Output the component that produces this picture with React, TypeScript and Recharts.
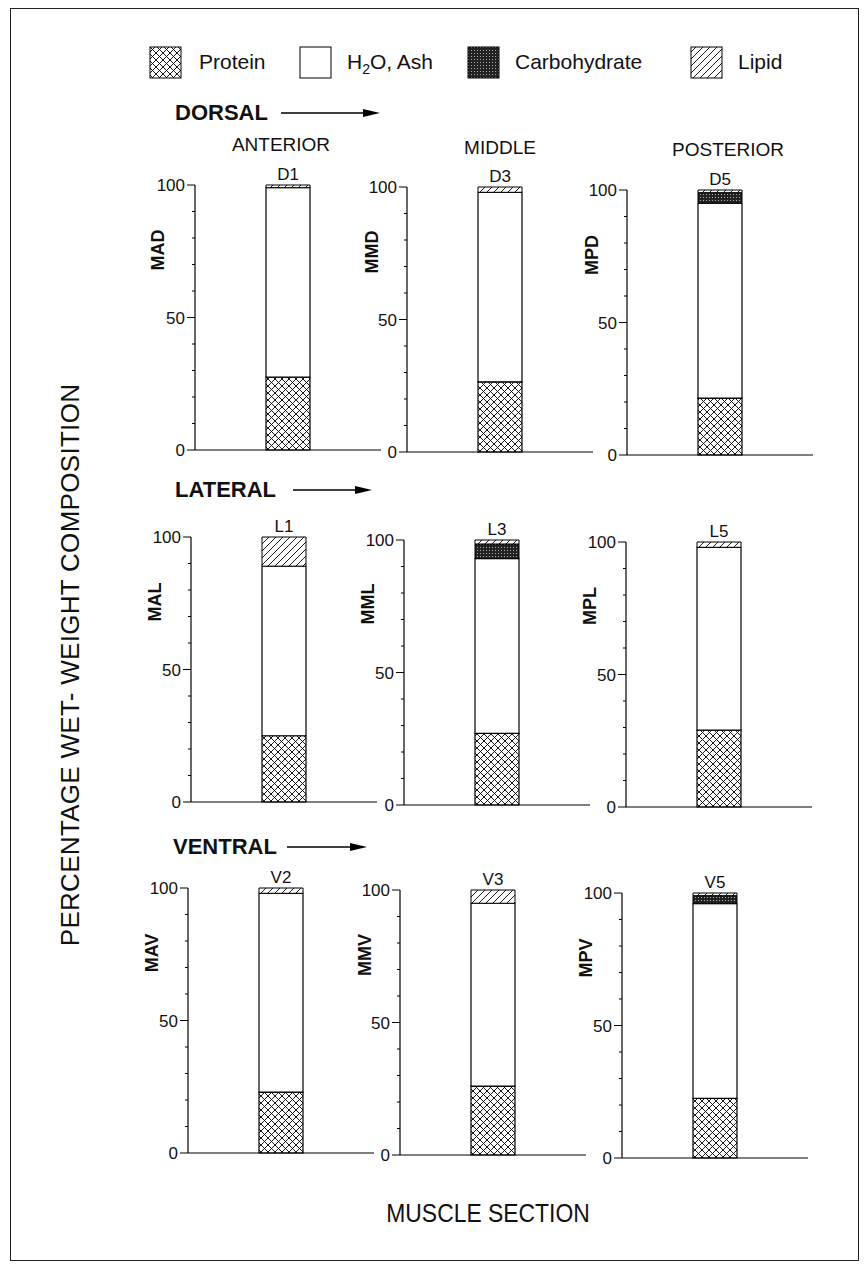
import React from 'react';
import { BarChart, Bar, XAxis, YAxis, LabelList } from 'recharts';

const panels = ['D1', 'D3', 'D5', 'L1', 'L3', 'L5', 'V2', 'V3', 'V5'];
const muscleCodes = ['MAD', 'MMD', 'MPD', 'MAL', 'MML', 'MPL', 'MAV', 'MMV', 'MPV'];
const protein = [27.5, 26.5, 21.5, 25, 27, 29, 23, 26, 22.5];
const water = [71.5, 71.5, 73.5, 64, 66, 69, 75, 69, 73.5];
const carbohydrate = [0, 0, 4, 0, 5.5, 0, 0, 0, 3];
const lipid = [1, 2, 1, 11, 1.5, 2, 2, 5, 1];
const sections = ['ANTERIOR', 'MIDDLE', 'POSTERIOR'];
const regions = ['DORSAL', 'LATERAL', 'VENTRAL'];
const yTicks = [0, 10, 20, 30, 40, 50, 60, 70, 80, 90, 100];

const FONT = '"Liberation Sans", Arial, Helvetica, sans-serif';

// panel geometry: y axis x, y of 100, y of 0
const geo = [
  [195, 185, 450], [407, 187, 452], [627, 190, 455],
  [191, 537, 802], [404, 540, 805], [626, 542, 807],
  [188, 888, 1153], [400, 890, 1155], [622, 893, 1158],
];
const PLOT_W = 186;
const BAR_W = 44;
const codePos = [
  [158, 250], [372, 252], [592, 255],
  [155, 602], [368, 604], [590, 606],
  [152, 953], [365, 955], [586, 958],
];
const headerPos = [[281, 145], [500, 148], [728, 150]];
const regionPos = [[175, 113, 281, 380], [175, 490, 293, 372], [173, 847, 287, 367]];

const YTick = (props: any) => {
  const { x, y, payload } = props;
  const major = payload.value % 50 === 0;
  return (
    <g>
      <line x1={x - (major ? 8 : 3)} x2={x} y1={y} y2={y} stroke="#000" strokeWidth={1} />
      {major && (
        <text x={x - 10} y={y} dy={6} textAnchor="end" fontSize={17} fontFamily={FONT} fill="#111">
          {payload.value}
        </text>
      )}
    </g>
  );
};

const Panel = ({ i }: { i: number }) => {
  const [ax, y100, y0] = geo[i];
  const plotH = y0 - y100;
  const data = [{
    name: panels[i],
    protein: protein[i],
    water: water[i],
    carbohydrate: carbohydrate[i],
    lipid: lipid[i],
  }];
  return (
    <div style={{ position: 'absolute', left: ax - 60, top: y100 - 30 }}>
      <BarChart width={60 + PLOT_W + 10} height={30 + plotH + 2 + 16} data={data} margin={{ top: 30, right: 10, left: 0, bottom: 16 }}>
        <XAxis dataKey="name" tick={false} tickLine={false} height={2} axisLine={{ stroke: '#000', strokeWidth: 1.2 }} />
        <YAxis domain={[0, 100]} ticks={yTicks} interval={0} width={60} tickLine={false} tickSize={0} tickMargin={0}
          tick={(p: any) => <YTick {...p} />} axisLine={{ stroke: '#000', strokeWidth: 1.2 }} />
        <Bar dataKey="protein" stackId="s" fill="url(#pat-protein)" stroke="#000" strokeWidth={1.2} barSize={BAR_W} isAnimationActive={false} />
        <Bar dataKey="water" stackId="s" fill="#fff" stroke="#000" strokeWidth={1.2} barSize={BAR_W} isAnimationActive={false} />
        <Bar dataKey="carbohydrate" stackId="s" fill="url(#pat-carb)" stroke="#000" strokeWidth={1} barSize={BAR_W} isAnimationActive={false} />
        <Bar dataKey="lipid" stackId="s" fill="url(#pat-lipid)" stroke="#000" strokeWidth={1} barSize={BAR_W} isAnimationActive={false}>
          <LabelList dataKey="name" position="top" offset={5} fill="#111" fontSize={17} fontFamily={FONT} />
        </Bar>
      </BarChart>
    </div>
  );
};

const Swatch = ({ fill }: { fill: string }) => (
  <svg width={33} height={33} style={{ display: 'block' }}>
    <rect x={1} y={1} width={31} height={31} fill={fill} stroke="#000" strokeWidth={1} />
  </svg>
);

const legendItems = [
  { x: 149, tx: 199, fill: 'url(#pat-protein)', label: <span>Protein</span> },
  { x: 299, tx: 347, fill: '#fff', label: <span>H<sub style={{ fontSize: 14 }}>2</sub>O, Ash</span> },
  { x: 467, tx: 515, fill: 'url(#pat-carb)', label: <span>Carbohydrate</span> },
  { x: 690, tx: 738, fill: 'url(#pat-lipid)', label: <span>Lipid</span> },
];

export default function App() {
  return (
    <div style={{ position: 'absolute', left: 0, top: 0, width: 866, height: 1264, background: '#fff', fontFamily: FONT, color: '#111' }}>
      <svg width={0} height={0} style={{ position: 'absolute' }}>
        <defs>
          <pattern id="pat-protein" width={7} height={7} patternUnits="userSpaceOnUse">
            <rect width={7} height={7} fill="#fff" />
            <path d="M0,0 L7,7 M7,0 L0,7" stroke="#000" strokeWidth={0.9} />
          </pattern>
          <pattern id="pat-lipid" width={7} height={7} patternUnits="userSpaceOnUse">
            <rect width={7} height={7} fill="#fff" />
            <path d="M-1,1 L1,-1 M0,7 L7,0 M6,8 L8,6" stroke="#000" strokeWidth={0.9} />
          </pattern>
          <pattern id="pat-carb" width={3} height={3} patternUnits="userSpaceOnUse">
            <rect width={3} height={3} fill="#222" />
            <rect x={1} y={1} width={1} height={1} fill="#aaa" />
          </pattern>
        </defs>
      </svg>

      <div style={{ position: 'absolute', left: 10, top: 8, width: 849, height: 1253, border: '1.5px solid #222', boxSizing: 'border-box' }} />

      {legendItems.map((it, k) => (
        <React.Fragment key={k}>
          <div style={{ position: 'absolute', left: it.x, top: 46 }}><Swatch fill={it.fill} /></div>
          <div style={{ position: 'absolute', left: it.tx, top: 49, fontSize: 21, lineHeight: '26px' }}>{it.label}</div>
        </React.Fragment>
      ))}

      {regions.map((r, k) => {
        const [x, y, a0, a1] = regionPos[k];
        return (
          <React.Fragment key={r}>
            <div style={{ position: 'absolute', left: x, top: y - 13, fontSize: 22, fontWeight: 'bold', lineHeight: '26px' }}>{r}</div>
            <svg style={{ position: 'absolute', left: a0, top: y - 6 }} width={a1 - a0} height={12}>
              <line x1={0} y1={6} x2={a1 - a0 - 12} y2={6} stroke="#000" strokeWidth={1.5} />
              <polygon points={`${a1 - a0 - 17},2 ${a1 - a0},6 ${a1 - a0 - 17},10`} fill="#000" />
            </svg>
          </React.Fragment>
        );
      })}

      {sections.map((s, k) => (
        <div key={s} style={{ position: 'absolute', left: headerPos[k][0], top: headerPos[k][1], transform: 'translate(-50%, -50%)', fontSize: 19, whiteSpace: 'nowrap' }}>{s}</div>
      ))}

      {panels.map((p, i) => <Panel key={p} i={i} />)}

      {muscleCodes.map((c, i) => (
        <div key={c} style={{ position: 'absolute', left: codePos[i][0], top: codePos[i][1], transform: 'translate(-50%, -50%) rotate(-90deg)', fontSize: 18, fontWeight: 'bold' }}>{c}</div>
      ))}

      <div style={{ position: 'absolute', left: 70, top: 665, transform: 'translate(-50%, -50%) rotate(-90deg)', fontSize: 26, letterSpacing: 0.3, whiteSpace: 'nowrap' }}>
        PERCENTAGE WET- WEIGHT COMPOSITION
      </div>
      <div style={{ position: 'absolute', left: 488, top: 1213, transform: 'translate(-50%, -50%) scaleX(0.88)', fontSize: 26, whiteSpace: 'nowrap' }}>
        MUSCLE SECTION
      </div>
    </div>
  );
}
